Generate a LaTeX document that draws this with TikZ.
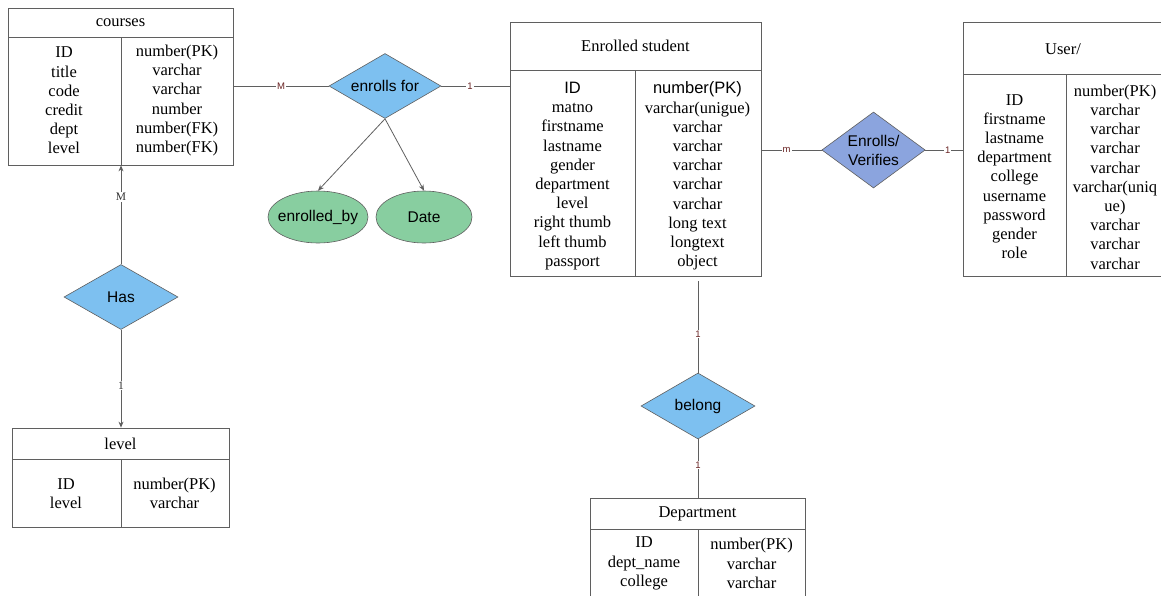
\documentclass[tikz,border=0pt]{standalone}
\usepackage{fontspec}
\setmainfont{Liberation Serif}
\newfontfamily\arialf{Liberation Sans}
\usetikzlibrary{shapes.geometric,arrows.meta}
\definecolor{relblue}{RGB}{125,192,240}
\definecolor{relpurple}{RGB}{139,164,222}
\definecolor{attgreen}{RGB}{136,206,160}
\definecolor{linegray}{RGB}{95,95,95}
\definecolor{cardred}{RGB}{105,35,35}
\begin{document}
\begin{tikzpicture}[x=1pt,y=-1pt,
  tbl/.style={draw=linegray, line width=0.8pt, inner sep=0pt, rectangle},
  sep/.style={draw=linegray, line width=0.8pt},
  coltext/.style={inner sep=0pt, align=center, font=\fontsize{16.5}{19.2}\selectfont},
  ttl/.style={inner sep=0pt, font=\fontsize{16.5}{19}\selectfont},
  rel/.style={diamond, draw=linegray, line width=0.6pt, fill=relblue, inner sep=0pt, aspect=1.7, align=center, font=\arialf\fontsize{15.5}{18}\selectfont},
  attr/.style={ellipse, draw=linegray, line width=0.6pt, fill=attgreen, inner sep=0pt, minimum height=52pt, font=\arialf\fontsize{15.5}{18}\selectfont},
  conn/.style={draw=linegray, line width=0.8pt},
  tip/.style={-{Stealth[length=6pt,width=5pt]}},
  card/.style={fill=white, inner sep=1pt, text=cardred, font=\arialf\fontsize{9.5}{10}\selectfont},
  cardserif/.style={fill=white, inner sep=1pt, text=black!80, font=\fontsize{11.5}{12}\selectfont}
]
\useasboundingbox (0,0) rectangle (1161,595);

% ---------- courses ----------
\node[tbl, minimum width=225pt, minimum height=157pt] (courses) at (120.5,86.5) {};
\draw[sep] (8,37) -- (233,37);
\draw[sep] (121,37) -- (121,165);
\node[ttl] (coursesT) at (120.5,22.5) {courses};
\node[coltext] (coursesL) at (64,100.5) {ID\\title\\code\\credit\\dept\\level};
\node[coltext] (coursesR) at (177,100.5) {number(PK)\\varchar\\varchar\\number\\number(FK)\\number(FK)};

% ---------- level ----------
\node[tbl, minimum width=217pt, minimum height=99pt] (level) at (120.5,477.5) {};
\draw[sep] (12,459) -- (229,459);
\draw[sep] (121,459) -- (121,527);
\node[ttl] (levelT) at (120.5,443.5) {level};
\node[coltext] (levelL) at (66,493.5) {ID\\level};
\node[coltext] (levelR) at (174.5,493.5) {number(PK)\\varchar};

% ---------- Enrolled student ----------
\node[tbl, minimum width=251pt, minimum height=254pt] (es) at (635.5,149) {};
\draw[sep] (510,70) -- (761,70);
\draw[sep] (635,70) -- (635,276);
\node[ttl] (esT) at (635.5,45.5) {Enrolled student};
\node[coltext] (esL) at (572.5,176) {{\arialf ID}\\matno\\firstname\\lastname\\gender\\department\\level\\right thumb\\left thumb\\passport};
\node[coltext] (esR) at (697.5,176) {{\arialf number(PK)}\\varchar(unigue)\\varchar\\varchar\\varchar\\varchar\\varchar\\long text\\longtext\\object};

% ---------- User/ ----------
\node[tbl, minimum width=204pt, minimum height=254pt] (user) at (1065,149) {};
\draw[sep] (963,74) -- (1167,74);
\draw[sep] (1066,74) -- (1066,276);
\node[ttl] (userT) at (1063,49) {User/};
\node[coltext] (userL) at (1014.5,176.5) {ID\\firstname\\lastname\\department\\college\\username\\password\\gender\\role};
\node[coltext] (userR) at (1115,177) {number(PK)\\varchar\\varchar\\varchar\\varchar\\varchar(uniq\\ue)\\varchar\\varchar\\varchar};

% ---------- Department ----------
\node[tbl, minimum width=215pt, minimum height=106pt] (dept) at (697.5,551) {};
\draw[sep] (590,529) -- (805,529);
\draw[sep] (698,529) -- (698,604);
\node[ttl] (deptT) at (697.5,514) {Department};
\node[coltext] (deptL) at (644,563.5) {ID\\dept\_name\\college};
\node[coltext] (deptR) at (751.5,563.5) {number(PK)\\varchar\\varchar};

% ---------- relationships ----------
\node[rel, minimum width=112pt, minimum height=65pt] (ef) at (385,86) {enrolls for};
\node[rel, minimum width=114pt, minimum height=65pt] (has) at (121,297) {Has};
\node[rel, minimum width=114pt, minimum height=66pt] (bl) at (698,406) {belong};
\node[rel, fill=relpurple, minimum width=97pt, minimum height=76pt, font=\arialf\fontsize{15.5}{19}\selectfont] (ev) at (873.5,150) {Enrolls/\\Verifies};

% ---------- attributes ----------
\node[attr, minimum width=100pt, inner xsep=-5pt] (eb) at (318,217) {enrolled\_by};
\node[attr, minimum width=96pt] (date) at (424,217) {Date};

% ---------- connectors ----------
\draw[conn] (ef.west -| courses.east) -- node[card]{M} (ef.west);
\draw[conn] (ef.east) -- node[card, pos=0.42]{1} (ef.east -| es.west);
\draw[conn, tip] (ef.south) -- (eb.north);
\draw[conn, tip] (ef.south) -- (date.north);
\draw[conn] (ev.west -| es.east) -- node[card, pos=0.42]{m} (ev.west);
\draw[conn] (ev.east) -- node[card, pos=0.6]{1} (ev.east -| user.west);
\draw[conn, tip] (has.north) -- node[cardserif, pos=0.68]{M} (has.north |- courses.south);
\draw[conn, tip] (has.south) -- node[cardserif, pos=0.57]{1} (has.south |- level.north);
\draw[conn, shorten <=5pt] (bl.north |- es.south) -- node[card, pos=0.6]{1} (bl.north);
\draw[conn] (bl.south) -- node[card, pos=0.44]{1} (bl.south |- dept.north);
\end{tikzpicture}
\end{document}
